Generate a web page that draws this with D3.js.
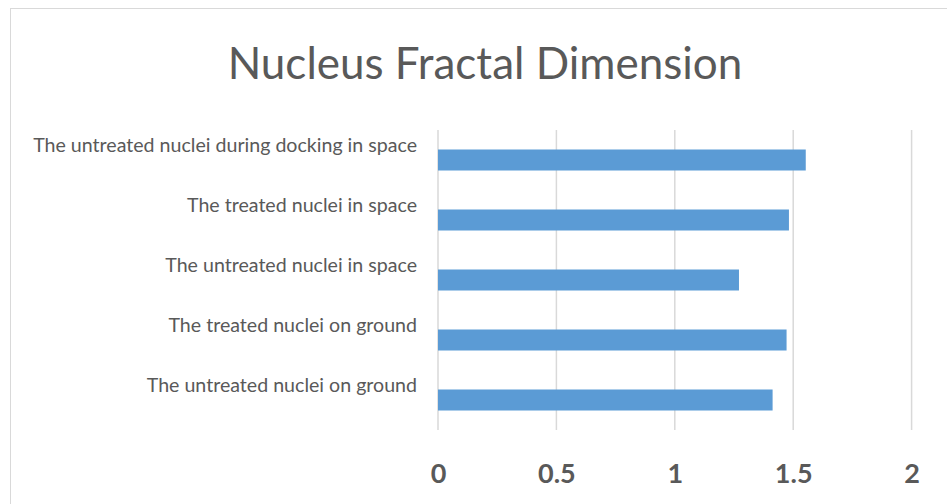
<!DOCTYPE html>
<html>
<head>
<meta charset="utf-8">
<script src="https://cdn.jsdelivr.net/npm/d3@7"></script>
<style>
  html, body { margin: 0; padding: 0; background: #fff; }
  svg { display: block; }
  text { font-family: Lato, "Open Sans", sans-serif; fill: #595959; }
</style>
</head>
<body>
<svg id="chart" width="947" height="504"></svg>
<script>
// Category labels, top to bottom
const categories = [
  "The untreated nuclei during docking in space",
  "The treated nuclei in space",
  "The untreated nuclei in space",
  "The treated nuclei on ground",
  "The untreated nuclei on ground"
];
// Fractal dimension per category
const values = [1.553, 1.482, 1.271, 1.472, 1.413];
// X axis tick values
const xTicks = [0, 0.5, 1, 1.5, 2];
const title = "Nucleus Fractal Dimension";

const svg = d3.select("#chart");
const W = 947, H = 504;
const plot = { left: 438, right: 911.6, top: 130, bottom: 430 };

// chart-area frame
svg.append("rect")
  .attr("x", 10.5).attr("y", 8.5)
  .attr("width", W + 20).attr("height", H + 20)
  .attr("fill", "#fff").attr("stroke", "#d9d9d9").attr("stroke-width", 1);

const x = d3.scaleLinear().domain([0, 2]).range([plot.left, plot.right]);
const y = d3.scaleBand().domain(categories).range([plot.top, plot.bottom]).paddingInner(0.65).paddingOuter(0.325);

// vertical gridlines
svg.append("g")
  .selectAll("line")
  .data(xTicks)
  .join("line")
  .attr("x1", d => x(d)).attr("x2", d => x(d))
  .attr("y1", plot.top).attr("y2", plot.bottom)
  .attr("stroke", "#d9d9d9").attr("stroke-width", 1.5);

// bars
svg.append("g")
  .selectAll("rect")
  .data(values)
  .join("rect")
  .attr("x", x(0))
  .attr("y", (d, i) => y(categories[i]))
  .attr("width", d => x(d) - x(0))
  .attr("height", y.bandwidth())
  .attr("fill", "#5b9bd5");

// category labels
svg.append("g")
  .selectAll("text")
  .data(categories)
  .join("text")
  .attr("x", 417)
  .attr("y", d => y(d) + y.bandwidth() / 2 - 8.5)
  .attr("text-anchor", "end")
  .attr("font-size", 19.6)
  .text(d => d);

// x axis tick labels
const axis = d3.axisBottom(x).tickValues(xTicks).tickSize(0).tickPadding(0)
  .tickFormat(d3.format("~g"));
const gAxis = svg.append("g").attr("transform", `translate(0,${plot.bottom})`).call(axis);
gAxis.select(".domain").remove();
gAxis.selectAll("text")
  .attr("y", 52.5).attr("dy", null)
  .attr("font-size", 27).attr("font-weight", "bold")
  .attr("fill", "#595959")
  .style("font-family", "Lato, 'Open Sans', sans-serif");

// title
svg.append("text")
  .attr("x", 485).attr("y", 78.5)
  .attr("text-anchor", "middle")
  .attr("font-size", 44)
  .text(title);
</script>
</body>
</html>
